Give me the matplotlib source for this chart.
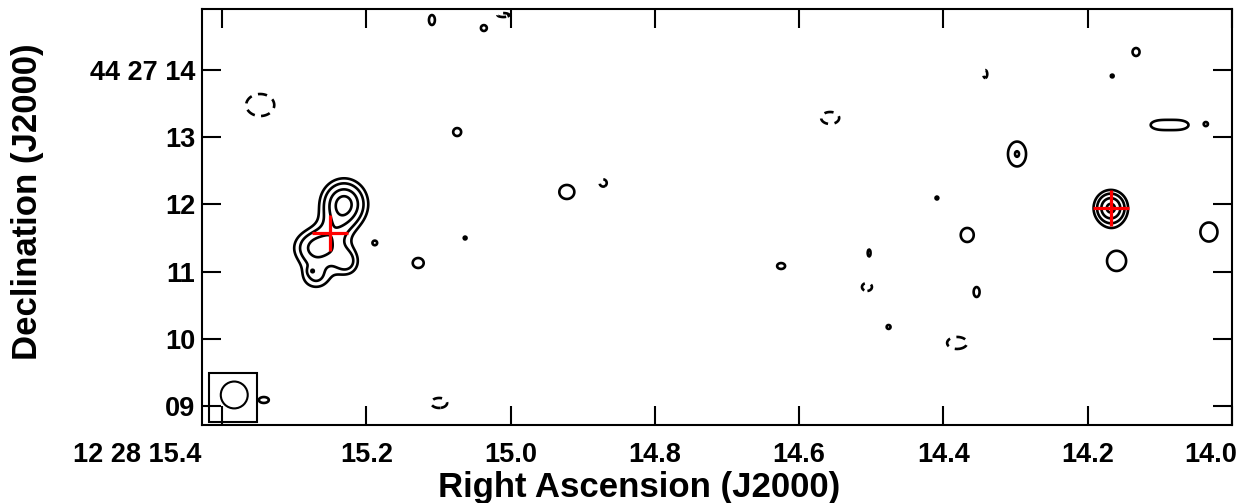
import numpy as np
import matplotlib
matplotlib.use("Agg")
import matplotlib.pyplot as plt
from matplotlib.patches import Rectangle, Ellipse

# Axis ticks: RA in seconds of time past 12h28m, Dec in arcsec past +44d27m
ra_ticks = [15.4, 15.2, 15.0, 14.8, 14.6, 14.4, 14.2, 14.0]
ra_labels = ["12 28 15.4", "15.2", "15.0", "14.8", "14.6", "14.4", "14.2", "14.0"]
dec_ticks = [9, 10, 11, 12, 13, 14]
dec_labels = ["09", "10", "11", "12", "13", "44 27 14"]

# Gaussian components of the radio map (amplitude in units of the rms noise,
# widths in arcsec)
comp_ra = [15.2309, 15.2420, 15.2683, 15.2697, 15.2753, 15.2267,
           14.1680,
           15.109, 15.037, 15.074, 14.133, 14.166, 14.103, 14.070, 14.036,
           14.298, 14.922, 14.409, 14.367, 14.032, 14.160, 15.188, 15.063,
           15.128, 14.625, 14.503, 14.354, 14.476, 15.342,
           15.347, 14.557, 14.872, 14.506, 14.381, 15.099, 14.342, 15.010]
comp_dec = [12.006, 11.619, 11.351, 10.905, 11.009, 11.143,
            11.946,
            14.744, 14.625, 13.077, 14.268, 13.911, 13.182, 13.182, 13.196,
            12.750, 12.185, 12.095, 11.545, 11.589, 11.158, 11.426, 11.500,
            11.128, 11.083, 11.277, 10.696, 10.176, 9.089,
            13.479, 13.286, 12.318, 10.771, 9.938, 9.045, 13.940, 14.818]
comp_amp = [9.4, 2.0, 7.3, 4.2, 1.7, 4.8,
            9.0,
            3.5, 3.5, 3.5, 3.5, 3.5, 3.4, 3.4, 3.5,
            4.6, 3.5, 3.5, 3.5, 3.5, 3.5, 3.5, 3.5,
            3.5, 3.5, 3.5, 3.5, 3.5, 3.5,
            -3.5, -3.5, -3.5, -3.5, -3.5, -3.5, -3.5, -3.5]
comp_sx = [0.238, 0.193, 0.253, 0.179, 0.045, 0.149,
           0.172,
           0.080, 0.080, 0.107, 0.094, 0.040, 0.179, 0.179, 0.040,
           0.145, 0.201, 0.040, 0.174, 0.228, 0.255, 0.054, 0.040,
           0.147, 0.107, 0.040, 0.080, 0.054, 0.134,
           0.375, 0.241, 0.107, 0.134, 0.268, 0.214, 0.054, 0.161]
comp_sy = [0.253, 0.179, 0.208, 0.149, 0.045, 0.164,
           0.182,
           0.134, 0.080, 0.107, 0.107, 0.040, 0.094, 0.094, 0.040,
           0.200, 0.188, 0.040, 0.188, 0.255, 0.268, 0.054, 0.040,
           0.134, 0.080, 0.094, 0.134, 0.054, 0.080,
           0.295, 0.161, 0.107, 0.107, 0.161, 0.134, 0.107, 0.054]

contour_levels = [-3.0, 3.0, 4.5, 6.5, 8.5]

# Optical positions marked with crosses
cross_ra = [15.250, 14.168]
cross_dec = [11.574, 11.946]

# Restoring beam (FWHM, arcsec) and its box
beam_ra, beam_dec, beam_fwhm = 15.383, 9.164, 0.40
box_ra = [15.418, 15.3515]
box_dec = [8.762, 9.491]

ra_lim = (15.4277, 14.0)
dec_lim = (8.717, 14.908)
cos_dec = np.cos(np.deg2rad(44.0 + 27.0 / 60.0 + 12.0 / 3600.0))
sec_to_arcsec = 15.0 * cos_dec

# Build the map on a fine grid
ra_grid = np.linspace(ra_lim[1], ra_lim[0], 1100)
dec_grid = np.linspace(dec_lim[0], dec_lim[1], 460)
RA, DEC = np.meshgrid(ra_grid, dec_grid)
image = np.zeros_like(RA)
for ra0, dec0, amp, sx, sy in zip(comp_ra, comp_dec, comp_amp, comp_sx, comp_sy):
    dx = (RA - ra0) * sec_to_arcsec
    dy = DEC - dec0
    image += amp * np.exp(-0.5 * ((dx / sx) ** 2 + (dy / sy) ** 2))

plt.rcParams["font.family"] = ["Liberation Sans", "DejaVu Sans"]
plt.rcParams["font.weight"] = "bold"
plt.rcParams["lines.dashed_pattern"] = [3.5, 2.5]

fig = plt.figure(figsize=(12.47, 5.03), dpi=100)
ax = fig.add_axes([202 / 1247, 78 / 503, 1030 / 1247, 416 / 503])

styles = ["dashed" if lv < 0 else "solid" for lv in contour_levels]
ax.contour(RA, DEC, image, levels=contour_levels, colors="black",
           linewidths=1.9, linestyles=styles)

ax.plot(cross_ra, cross_dec, ls="none", marker="+", ms=26, mew=2.3,
        color="red", zorder=5)

# Beam ellipse inside its box
ax.add_patch(Rectangle((box_ra[0], box_dec[0]), box_ra[1] - box_ra[0],
                       box_dec[1] - box_dec[0], fill=False, ec="black", lw=1.5))
ax.add_patch(Ellipse((beam_ra, beam_dec), beam_fwhm / sec_to_arcsec, beam_fwhm,
                     fill=False, ec="black", lw=1.5))

ax.set_xlim(*ra_lim)
ax.set_ylim(*dec_lim)

for sp in ax.spines.values():
    sp.set_linewidth(1.5)

ax.set_xticks(ra_ticks)
ax.set_xticklabels([])
ax.set_yticks(dec_ticks)
ax.set_yticklabels(dec_labels, fontsize=19.5, fontweight="bold")
ax.tick_params(which="both", direction="in", length=13.7, width=1.5,
               top=True, right=True, pad=5)

# RA tick labels: first one ends left of its tick, last one kept inside the figure
for i, (val, lab) in enumerate(zip(ra_ticks, ra_labels)):
    if i == 0:
        ha, dx = "right", -15
    elif i == len(ra_ticks) - 1:
        ha, dx = "right", 3.5
    else:
        ha, dx = "center", 0
    ax.annotate(lab, xy=(val, 0), xycoords=("data", "axes fraction"),
                xytext=(dx, -12.5), textcoords="offset points",
                ha=ha, va="top", fontsize=19.5, fontweight="bold")

fig.text(639 / 1247, (503 - 488) / 503, "Right Ascension (J2000)",
         ha="center", va="center", fontsize=25, fontweight="bold")
fig.text(28 / 1247, (503 - 202) / 503, "Declination (J2000)", rotation=90,
         ha="center", va="center", fontsize=25, fontweight="bold")

fig.savefig("out.png", dpi=100)
